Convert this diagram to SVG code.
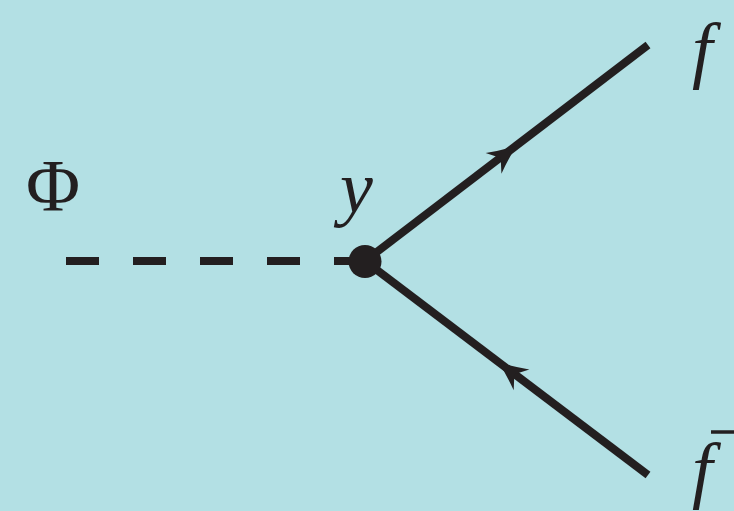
<svg xmlns="http://www.w3.org/2000/svg" width="734" height="511" viewBox="0 0 734 511">
<style>
.ln{stroke:#231f20;fill:none;stroke-width:8}
.lbl{font-family:"Liberation Serif","DejaVu Serif",serif;fill:#231f20;font-size:74px}
.it{font-style:italic}
.ah{fill:#231f20}
</style>
<defs>
<path id="arr" d="M2,0 Q-12,5 -27,13 L-18,0 L-27,-13 Q-12,-5 2,0 Z"/>
</defs>
<rect width="734" height="511" fill="#b3e0e4"/>
<g id="connectors">
<line class="ln" x1="66" y1="261" x2="365" y2="261" stroke-dasharray="33 34" stroke-width="9"/>
<line class="ln" x1="365" y1="261" x2="648" y2="45" stroke-width="7.5"/>
<line class="ln" x1="365" y1="261" x2="648" y2="475" stroke-width="7.5"/>
<use href="#arr" class="ah" transform="translate(515,147) rotate(-37.35)"/>
<use href="#arr" class="ah" transform="translate(500,363.5) rotate(-142.9)"/>
</g>
<g id="vertex">
<circle cx="365" cy="261.5" r="16.5" fill="#231f20"/>
<text class="lbl it" x="340" y="212">y</text>
</g>
<g id="phi">
<text class="lbl" x="26" y="211" font-size="70">Φ</text>
</g>
<g id="f">
<text class="lbl it" x="692" y="74">f</text>
</g>
<g id="fbar">
<text class="lbl it" x="692" y="494" font-size="72">f</text>
<line x1="711" y1="432" x2="734" y2="432" stroke="#231f20" stroke-width="3.5"/>
</g>
</svg>
